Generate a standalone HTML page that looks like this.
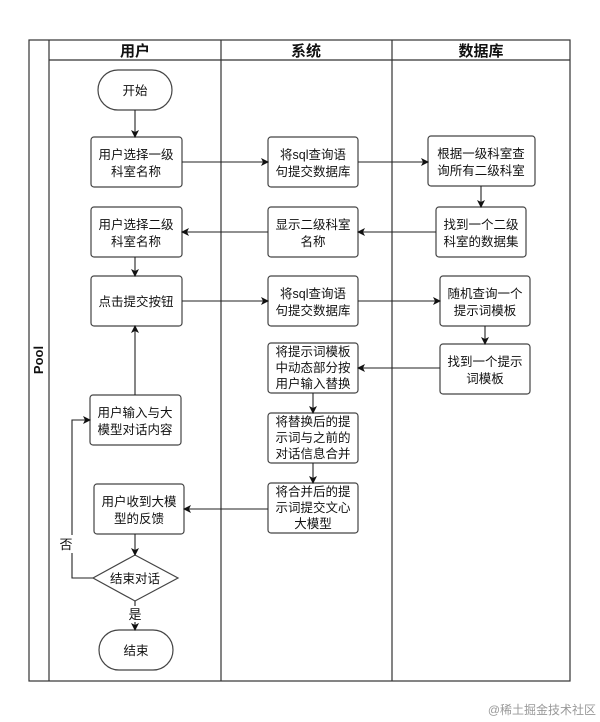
<!DOCTYPE html>
<html><head><meta charset="utf-8"><style>
html,body{margin:0;padding:0;background:#fff;}
svg{display:block;}
text{font-family:"Liberation Sans","Noto Sans CJK SC",sans-serif;fill:#111;}
</style></head><body>
<svg width="600" height="722" viewBox="0 0 600 722" xmlns="http://www.w3.org/2000/svg">
<defs><marker id="a" markerWidth="8" markerHeight="8" refX="7" refY="4" orient="auto" markerUnits="userSpaceOnUse"><path d="M0,0 L8,4 L0,8 L2,4 Z" fill="#111"/></marker></defs>
<rect x="0" y="0" width="600" height="722" fill="#fff"/>
<g stroke="#333" stroke-width="1.2" fill="none">
<rect x="29" y="40" width="541" height="641"/>
<line x1="49" y1="40" x2="49" y2="681"/>
<line x1="221" y1="40" x2="221" y2="681"/>
<line x1="392" y1="40" x2="392" y2="681"/>
<line x1="49" y1="60" x2="570" y2="60"/>
</g>
<text x="43" y="360" font-size="13" font-weight="bold" text-anchor="middle" transform="rotate(-90 43 360)">Pool</text>
<g font-size="15" font-weight="bold" text-anchor="middle">
<text x="135" y="56">用户</text><text x="306" y="56">系统</text><text x="481" y="56">数据库</text>
</g>
<g stroke="#444" stroke-width="1.2" fill="#fff">
<rect x="98" y="70" width="74" height="40" rx="20"/>
<rect x="91" y="137" width="91" height="50" rx="3"/>
<rect x="91" y="207" width="91" height="50" rx="3"/>
<rect x="91" y="276" width="91" height="50" rx="3"/>
<rect x="90" y="395" width="91" height="50" rx="3"/>
<rect x="94" y="484" width="90" height="50" rx="3"/>
<path d="M135,555 L178,578 L135,601 L93,578 Z"/>
<rect x="99" y="630" width="74" height="40" rx="20"/>
<rect x="268" y="137" width="90" height="50" rx="3"/>
<rect x="268" y="207" width="90" height="50" rx="3"/>
<rect x="268" y="276" width="90" height="50" rx="3"/>
<rect x="268" y="343" width="90" height="50" rx="3"/>
<rect x="268" y="413" width="90" height="50" rx="3"/>
<rect x="268" y="483" width="90" height="50" rx="3"/>
<rect x="428" y="136" width="107" height="50" rx="3"/>
<rect x="436" y="207" width="90" height="50" rx="3"/>
<rect x="440" y="276" width="90" height="50" rx="3"/>
<rect x="440" y="344" width="90" height="50" rx="3"/>
</g>
<g stroke="#222" stroke-width="1.1" fill="none" marker-end="url(#a)">
<line x1="135" y1="110" x2="135" y2="137"/>
<line x1="182" y1="162" x2="268" y2="162"/>
<line x1="358" y1="162" x2="428" y2="162"/>
<line x1="481" y1="186" x2="481" y2="207"/>
<line x1="436" y1="232" x2="358" y2="232"/>
<line x1="268" y1="232" x2="182" y2="232"/>
<line x1="135" y1="257" x2="135" y2="276"/>
<line x1="182" y1="301" x2="268" y2="301"/>
<line x1="358" y1="301" x2="440" y2="301"/>
<line x1="485" y1="326" x2="485" y2="344"/>
<line x1="440" y1="368" x2="358" y2="368"/>
<line x1="313" y1="393" x2="313" y2="413"/>
<line x1="313" y1="463" x2="313" y2="483"/>
<line x1="268" y1="509" x2="184" y2="509"/>
<line x1="135" y1="395" x2="135" y2="326"/>
<line x1="135" y1="534" x2="135" y2="555"/>
<polyline points="93,578 72,578 72,420 90,420"/>
<line x1="135" y1="601" x2="135" y2="630"/>
</g>
<rect x="125" y="606" width="20" height="16" fill="#fff"/>
<text x="135" y="619" font-size="13" text-anchor="middle">是</text>
<rect x="62" y="535" width="18" height="18" fill="#fff"/>
<text x="66" y="549" font-size="13" text-anchor="middle">否</text>
<g font-size="12.5" text-anchor="middle">
<text x="135" y="95">开始</text>
<text x="136" y="159">用户选择一级</text><text x="136" y="176">科室名称</text>
<text x="136" y="229">用户选择二级</text><text x="136" y="246">科室名称</text>
<text x="136" y="306">点击提交按钮</text>
<text x="135" y="417">用户输入与大</text><text x="135" y="434">模型对话内容</text>
<text x="139" y="506">用户收到大模</text><text x="139" y="523">型的反馈</text>
<text x="135" y="583">结束对话</text>
<text x="136" y="655">结束</text>
<text x="313" y="159">将sql查询语</text><text x="313" y="176">句提交数据库</text>
<text x="313" y="229">显示二级科室</text><text x="313" y="246">名称</text>
<text x="313" y="298">将sql查询语</text><text x="313" y="315">句提交数据库</text>
<text x="313" y="356">将提示词模板</text><text x="313" y="372">中动态部分按</text><text x="313" y="388">用户输入替换</text>
<text x="313" y="426">将替换后的提</text><text x="313" y="442">示词与之前的</text><text x="313" y="458">对话信息合并</text>
<text x="313" y="496">将合并后的提</text><text x="313" y="512">示词提交文心</text><text x="313" y="528">大模型</text>
<text x="481" y="158">根据一级科室查</text><text x="481" y="175">询所有二级科室</text>
<text x="481" y="229">找到一个二级</text><text x="481" y="246">科室的数据集</text>
<text x="485" y="298">随机查询一个</text><text x="485" y="315">提示词模板</text>
<text x="485" y="366">找到一个提示</text><text x="485" y="383">词模板</text>
</g>
<text x="596" y="714" font-size="12" text-anchor="end" style="fill:#999">@稀土掘金技术社区</text>
</svg>
</body></html>
